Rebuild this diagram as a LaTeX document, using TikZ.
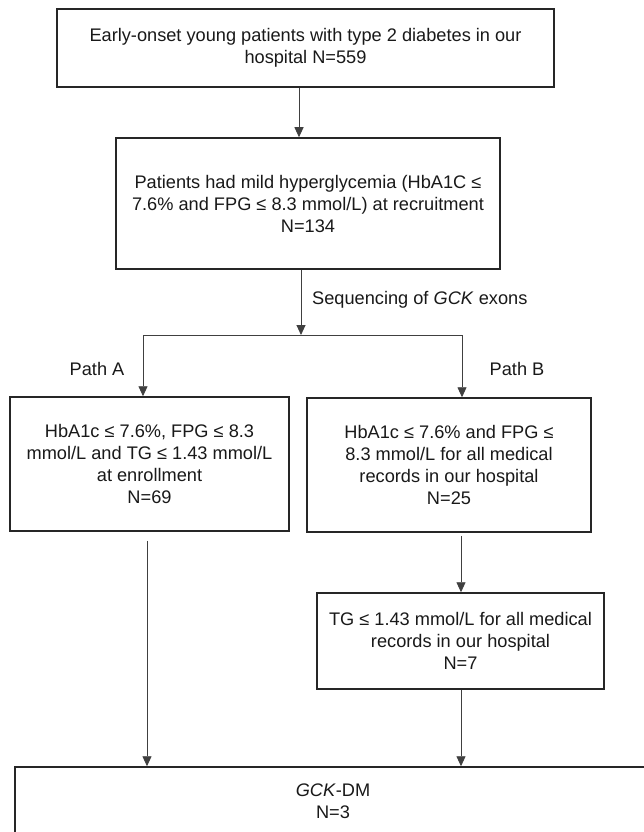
\documentclass[tikz,border=0pt]{standalone}
\usepackage{fontspec}
\setmainfont{Liberation Sans}
\usetikzlibrary{arrows.meta}
\begin{document}
\begin{tikzpicture}[x=1pt,y=-1pt,
  txt/.style={text=black!90, font=\fontsize{18.2}{22}\selectfont},
  box/.style={txt, draw=black!85, line width=1.5pt, inner sep=0pt, align=center},
  conn/.style={draw=black!75, line width=0.9pt},
  arr/.style={conn, -{Triangle[length=10pt,width=9pt]}},
  lbl/.style={txt, inner sep=0pt}]
\clip (0,0) rectangle (644,832);
\fill[white] (0,0) rectangle (644,832);

\node[box, minimum width=497pt, minimum height=78pt] (b1) at (305.5,48)
  {Early-onset young patients with type 2 diabetes in our\\hospital N=559};
\node[box, minimum width=384pt, minimum height=131pt] (b2) at (308,203.5)
  {Patients had mild hyperglycemia (HbA1C ≤\\7.6\% and FPG ≤ 8.3 mmol/L) at recruitment\\N=134};
\node[box, minimum width=279pt, minimum height=134pt] (bA) at (149.5,464)
  {HbA1c ≤ 7.6\%, FPG ≤ 8.3\\mmol/L and TG ≤ 1.43 mmol/L\\at enrollment\\N=69};
\node[box, minimum width=284pt, minimum height=134pt] (bB) at (449,465)
  {HbA1c ≤ 7.6\% and FPG ≤\\8.3 mmol/L for all medical\\records in our hospital\\N=25};
\node[box, minimum width=287pt, minimum height=96pt] (bC) at (460.5,641)
  {TG ≤ 1.43 mmol/L for all medical\\records in our hospital\\N=7};
\node[box, minimum width=636pt, minimum height=68pt] (bD) at (333,801)
  {\textit{GCK}-DM\\N=3};

\node[lbl, anchor=west] (seq) at (312,300) {Sequencing of \textit{GCK} exons};
\node[lbl] (pA) at (97,369) {Path A};
\node[lbl] (pB) at (517,369) {Path B};

\coordinate (x1) at (299,0);
\coordinate (split) at (301,335);
\coordinate (hl) at (143,335);
\coordinate (hr) at (462,335);
\coordinate (xa) at (147,0);
\coordinate (xb) at (461,0);

\draw[arr] (b1.south -| x1) -- (b2.north -| x1);
\draw[arr] (b2.south -| split) -- (split);
\draw[conn] (hl) -- (hr);
\draw[arr] (hl) -- (bA.north -| hl);
\draw[arr] (hr) -- (bB.north -| hr);
\draw[arr, shorten <=9pt] (bA.south -| xa) -- (bD.north -| xa);
\draw[arr, shorten <=3pt] (bB.south -| xb) -- (bC.north -| xb);
\draw[arr] (bC.south -| xb) -- (bD.north -| xb);
\end{tikzpicture}
\end{document}
